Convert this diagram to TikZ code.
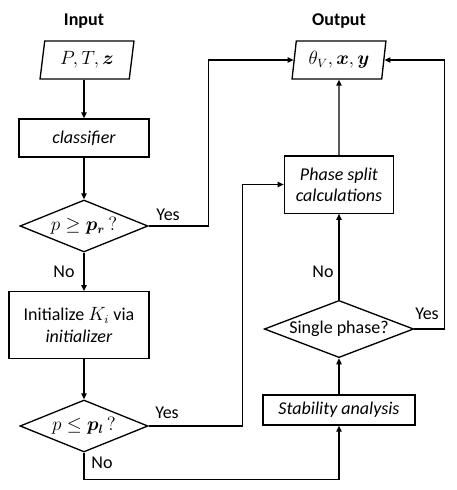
\documentclass[tikz,border=0pt]{standalone}
\usepackage{amsmath}
\usepackage{amssymb}
\usepackage{bm}
\usepackage{fontspec}
\setmainfont{Carlito}
\usetikzlibrary{shapes.geometric}
\usetikzlibrary{arrows.meta}

\begin{document}
\begin{tikzpicture}[x=0.75pt,y=-0.75pt,line width=1pt,
    >={Triangle[length=4.5pt,width=4pt]},
    font=\fontsize{13.5}{16}\selectfont,
    io/.style={draw,trapezium,trapezium left angle=80,trapezium right angle=100,
      trapezium stretches=true,minimum width=70.5pt,minimum height=28.5pt,inner sep=0pt},
    proc/.style={draw,rectangle,align=center,inner sep=1pt},
    decide/.style={draw,diamond,aspect=2.5,inner sep=0.5pt}]
      \useasboundingbox (0,0) rectangle (457,490);
      % headings
      \node[font=\fontsize{13.5}{16}\selectfont\bfseries] (hin) at (84,21) {Input};
      \node[font=\fontsize{13.5}{16}\selectfont\bfseries] (hout) at (339,21) {Output};
      % left column
      \node[io] (inp) at (87,60) {$P, T, \bm{z}$};
      \node[proc,minimum width=97.5pt,minimum height=28.5pt] (cls) at (84,138) {\textit{classifier}};
      \node[decide,minimum width=96pt,minimum height=39pt] (dr) at (84,226) {$p \geq \bm{p}_{\bm{r}}\,?$};
      \node[proc,minimum width=105pt,minimum height=50pt] (init) at (79,325) {Initialize $K_i$ via\\\textit{initializer}};
      \node[decide,minimum width=96pt,minimum height=39pt] (dl) at (84,426) {$p \leq \bm{p}_{\bm{l}}\,?$};
      % right column
      \node[io] (out) at (339,60) {$\theta_V, \bm{x}, \bm{y}$};
      \node[proc,minimum width=82pt,minimum height=43pt] (ps) at (339,184.5) {\textit{Phase split}\\\textit{calculations}};
      \node[decide,minimum width=112pt,minimum height=41pt] (sp) at (339,329) {Single phase?};
      \node[proc,minimum width=114pt,minimum height=22.5pt] (st) at (339,410) {\textit{Stability analysis}};
      % labels
      \node (yr) at (168,215) {Yes};
      \node (nr) at (64,272) {No};
      \node (yl) at (167,413) {Yes};
      \node (nl) at (102,463) {No};
      \node (ns) at (323,272) {No};
      \node (ys) at (427,314) {Yes};
      % connectors
      \draw[->] (inp.south-|cls) -- (cls);
      \draw[->] (cls) -- (dr);
      \draw[->] (dr) -- (dr|-init.north);
      \draw[->] (init.south-|dl) -- (dl);
      \draw[->] (dr.east) -- ++(60,0) |- (out.west);
      \draw[->] (dl.east) -- ++(94,0) |- (ps.west);
      \draw[->] (dl.south) -- ++(0,27) -| (st.south);
      \draw[->] (st) -- (sp);
      \draw[->] (sp) -- (ps);
      \draw[->] (ps) -- (out);
      \draw[->] (sp.east) -- ++(30,0) |- (out.east);
    \end{tikzpicture}
\end{document}
